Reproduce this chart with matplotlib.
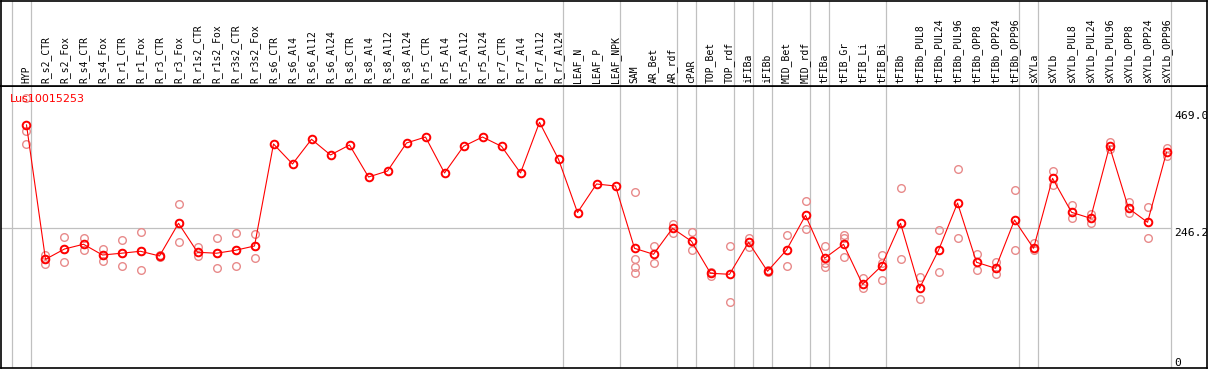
import numpy as np
import matplotlib
matplotlib.use("Agg")
from matplotlib import pyplot as plt

title = "Lus10015253"

samples = ["HYP",
           "R_s2_CTR", "R_s2_Fox", "R_s4_CTR", "R_s4_Fox", "R_r1_CTR", "R_r1_Fox",
           "R_r3_CTR", "R_r3_Fox", "R_r1s2_CTR", "R_r1s2_Fox", "R_r3s2_CTR", "R_r3s2_Fox",
           "R_s6_CTR", "R_s6_Al4", "R_s6_Al12", "R_s6_Al24",
           "R_s8_CTR", "R_s8_Al4", "R_s8_Al12", "R_s8_Al24",
           "R_r5_CTR", "R_r5_Al4", "R_r5_Al12", "R_r5_Al24",
           "R_r7_CTR", "R_r7_Al4", "R_r7_Al12", "R_r7_Al24",
           "LEAF_N", "LEAF_P", "LEAF_NPK",
           "SAM", "AR_Bet", "AR_rdf", "cPAR", "TOP_Bet", "TOP_rdf",
           "iFIBa", "iFIBb", "MID_Bet", "MID_rdf",
           "tFIBa", "tFIB_Gr", "tFIB_Li", "tFIB_Bi",
           "tFIBb", "tFIBb_PUL8", "tFIBb_PUL24", "tFIBb_PUL96",
           "tFIBb_OPP8", "tFIBb_OPP24", "tFIBb_OPP96",
           "sXYLa", "sXYLb", "sXYLb_PUL8", "sXYLb_PUL24", "sXYLb_PUL96",
           "sXYLb_OPP8", "sXYLb_OPP24", "sXYLb_OPP96"]

# mean expression per sample
means = [442,
         187.5, 207, 216, 195.6, 199, 202.7, 193.8, 255.7, 200.8, 199, 204.6, 212.7,
         405.9, 368, 414.8, 385.1,
         404, 343.4, 354.7, 407.8,
         419.1, 351, 401.5, 419.1,
         401.5, 351, 447, 376.9,
         276.1, 330.1, 326.3,
         208.3, 197, 246.2, 221.6, 161, 159.1,
         219.7, 164.8, 205.1, 270.8,
         189.4, 215.9, 140.2, 174.8,
         255.7, 132.6, 204.6, 294.1,
         181.8, 170.5, 261.9,
         208.3, 340.9, 276.5, 265.2, 401.5,
         284.1, 257.6, 390.2]

# replicate values (empty where only one sample)
reps = [[493.6, 430.5, 405.3],
        [195.6, 187.5, 178.6], [229.2, 207, 181.8], [227.8, 204.6], [206.4, 195.1, 184.9],
        [224.1, 199, 174.8], [238.6, 202.7, 166.7], [195.1, 192.4], [291.7, 255.7, 219.7],
        [210.8, 193.8], [227.3, 199, 170.5], [236.8, 204.6, 174.8], [234.9, 212.7, 189.4],
        [], [], [], [],
        [], [], [], [],
        [], [], [], [],
        [], [], [], [],
        [], [], [],
        [315, 188.1, 173.5, 161], [212.1, 179.9], [254.9, 237.3], [239.2, 204.6],
        [164, 155.9], [212.1, 106.1],
        [227.8, 210.2], [167.2, 162.9], [233, 175.4], [297.4, 244.3],
        [212.1, 179.9, 173.5], [233, 227.8, 191.3], [152.7, 132.6], [195.1, 181.1, 147.7],
        [323.1, 187.5], [154, 111.7], [242.4, 164], [358, 227.3],
        [197, 166.7], [181.8, 159.1], [318.2, 204.6],
        [219, 204.6], [354.2, 327.7], [289.8, 265.2], [273.9, 255.7], [410.2, 395.8],
        [295.5, 274.6], [286, 227.3], [397.7, 382.6]]

# index of last sample in each group
group_ends = [-1, 0, 28, 31, 34, 35, 37, 38, 39, 41, 42, 45, 52, 53, 60]
ref_lines = [469.0, 246.2, 0]

W, H = 1209, 370
fig = plt.figure(figsize=(W / 100, H / 100), dpi=100)
ax = fig.add_axes([1 / W, 2 / H, 1206 / W, 282.3 / H])
hx = fig.add_axes([1 / W, 284.3 / H, 1206 / W, 85.2 / H], sharex=ax)

x = np.arange(len(samples))
xmin, xmax = -1.342, 62.13
ax.set_xlim(xmin, xmax)
ax.set_ylim(-18.4, 516.3)
hx.set_ylim(0, 1)

grey = "#c0c0c0"
for a in (ax, hx):
    a.set_xticks([])
    a.set_yticks([])
    for s in a.spines.values():
        s.set_color("black")
        s.set_linewidth(1.2)
    for g in group_ends:
        a.axvline(g + 0.22, color=grey, lw=0.9, zorder=0)

ax.plot([xmin, group_ends[-1] + 0.22], [ref_lines[1]] * 2, color=grey, lw=0.9, zorder=0)

for i, r in enumerate(reps):
    if r:
        ax.plot([i] * len(r), r, "o", ms=5.5, mfc="none", mec="#e88a8a", mew=1.0, zorder=2)

ax.plot(x, means, "-", color="red", lw=0.8, zorder=3)
ax.plot(x, means, "o", ms=5.5, mfc="none", mec="red", mew=1.4, zorder=4)

for v in ref_lines:
    ax.text(60.42, max(v, -8), f"{v:.1f}" if v else "0", fontsize=8.2, family="DejaVu Sans Mono",
            va="top", ha="left", clip_on=True)

ax.text(-0.86, 491, title, color="red", fontsize=8, va="center", ha="left")

for i, s in enumerate(samples):
    hx.text(i, 0.03, s, rotation=90, fontsize=7, family="DejaVu Sans Mono",
            ha="center", va="bottom")

fig.savefig("out.png", dpi=100)
